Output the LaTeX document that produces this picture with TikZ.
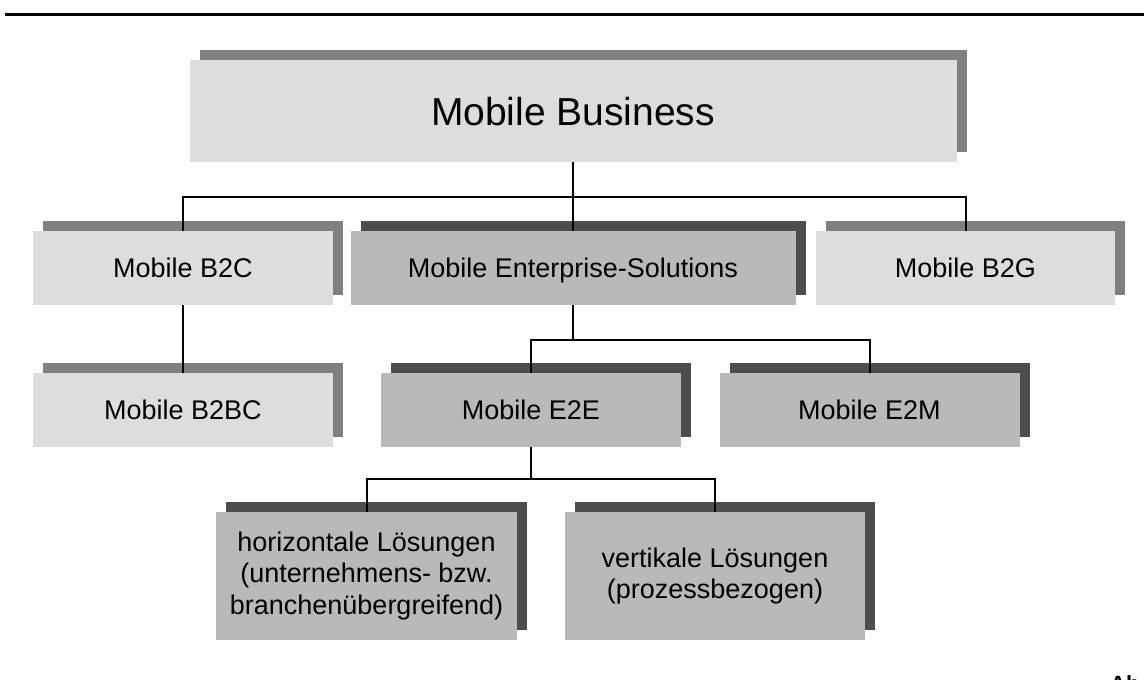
\documentclass[tikz,border=0pt]{standalone}
\usepackage{fontspec}
\setmainfont{Liberation Sans}
\usetikzlibrary{shadows}
\definecolor{boxlight}{HTML}{DDDDDD}
\definecolor{boxdark}{HTML}{B9B9B9}
\definecolor{shadowlight}{HTML}{808080}
\definecolor{shadowdark}{HTML}{4D4D4D}
\tikzset{
    light box/.style={
        fill=boxlight,inner sep=0pt,align=center,
        font=\fontsize{27}{31.5}\selectfont,
        drop shadow={shadow xshift=10pt,shadow yshift=10pt,fill=shadowlight,opacity=1}
    },
    dark box/.style={
        light box,fill=boxdark,
        drop shadow={shadow xshift=10pt,shadow yshift=10pt,fill=shadowdark,opacity=1}
    },
    one line/.style={text height=19.5pt,text depth=0pt},
    tree line/.style={line width=2pt,black},
}

\begin{document}
\begin{tikzpicture}[x=1pt,y=-1pt]
\useasboundingbox (0,0) rectangle (1144,680);
\draw[line width=3pt] (5,14) -- (1144,14);
% boxes
\node[light box,minimum width=767pt,minimum height=102pt,font=\fontsize{39}{46}\selectfont,text height=28pt,text depth=0pt] (biz) at (573,111) {Mobile Business};
\node[light box,one line,minimum width=300pt,minimum height=74pt] (b2c) at (183,268) {Mobile B2C};
\node[dark box,one line,minimum width=445pt,minimum height=74pt] (ent) at (573,268) {Mobile Enterprise-Solutions};
\node[light box,one line,minimum width=299pt,minimum height=74pt] (b2g) at (965.5,268) {Mobile B2G};
\node[light box,one line,minimum width=300pt,minimum height=74pt] (b2bc) at (183,410) {Mobile B2BC};
\node[dark box,one line,minimum width=300pt,minimum height=74pt] (e2e) at (531,410) {Mobile E2E};
\node[dark box,one line,minimum width=300pt,minimum height=74pt] (e2m) at (869.5,410) {Mobile E2M};
\node[dark box,minimum width=301pt,minimum height=128pt] (hor) at (366.5,576) {horizontale Lösungen\\(unternehmens- bzw.\\branchenübergreifend)};
\node[dark box,minimum width=300pt,minimum height=128pt] (ver) at (715,576) {vertikale Lösungen\\(prozessbezogen)};
% connectors
\draw[tree line] (biz.south) -- ++(0,35) -| (b2c.north);
\draw[tree line] (biz.south) -- ++(0,35) -| (b2g.north);
\draw[tree line] (biz.south) -- (ent.north);
\draw[tree line] (b2c.south) -- (b2bc.north);
\draw[tree line] (ent.south) -- ++(0,35) -| (e2e.north);
\draw[tree line] (ent.south) -- ++(0,35) -| (e2m.north);
\draw[tree line] (e2e.south) -- ++(0,32) -| (hor.north);
\draw[tree line] (e2e.south) -- ++(0,32) -| (ver.north);
\node[anchor=north west,inner sep=0pt,font=\fontsize{22}{26}\selectfont\bfseries] (abb) at (1110,675) {Ab};
\end{tikzpicture}
\end{document}
